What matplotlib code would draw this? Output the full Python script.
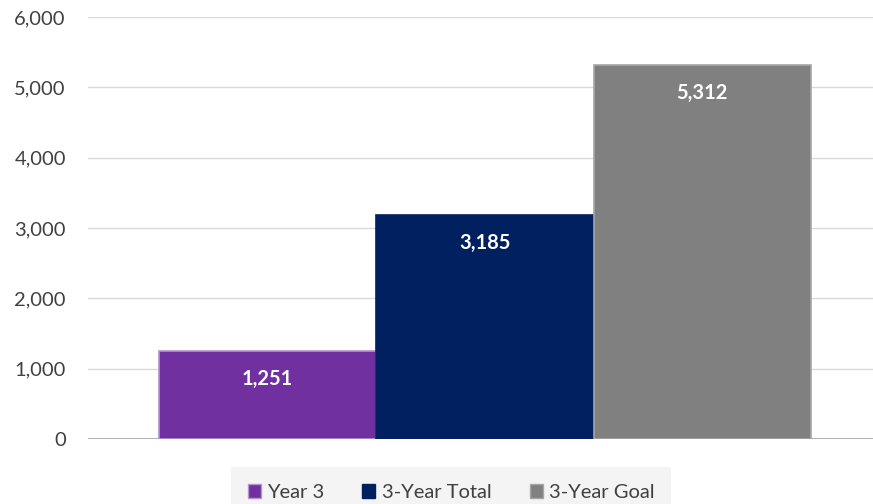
import matplotlib
matplotlib.use("Agg")
import matplotlib.pyplot as plt
from matplotlib.patches import Patch
from matplotlib.ticker import FuncFormatter, MultipleLocator

plt.rcParams['font.family'] = ['Lato', 'DejaVu Sans']

series = ["Year 3", "3-Year Total", "3-Year Goal"]
values = [1251, 3185, 5312]
colors = ["#7030A0", "#002060", "#808080"]
edges = ["#B294D0", "#002060", "#A6A6A6"]

fig = plt.figure(figsize=(8.73, 5.04), dpi=100)
ax = fig.add_axes([88 / 873, 65 / 504, 785 / 873, 422 / 504])

positions = [-1, 0, 1]
bars = ax.bar(positions, values, width=1.0, color=colors, edgecolor=edges,
              linewidth=1.2, zorder=3)

for x, v in zip(positions, values):
    ax.annotate(f"{v:,}", xy=(x, v), xytext=(0, -20), textcoords="offset points",
                ha="center", va="center", color="white", fontsize=14.5,
                fontweight="bold", zorder=4)

ax.set_xlim(-1.827, 1.786)
ax.set_ylim(0, 6000)
ax.yaxis.set_major_locator(MultipleLocator(1000))
ax.yaxis.set_major_formatter(FuncFormatter(lambda v, p: f"{int(v):,}"))
ax.grid(axis="y", color="#D9D9D9", linewidth=1.0, zorder=0)
ax.axhline(0, color="#A6A6A6", linewidth=1.2, zorder=2)
ax.set_xticks([])
ax.tick_params(axis="y", length=0, pad=16, labelsize=14.5, labelcolor="#404040")
for s in ax.spines.values():
    s.set_visible(False)

handles = [Patch(facecolor=c, edgecolor=e, linewidth=1.0) for c, e in zip(colors, edges)]
leg = fig.legend(handles, series, loc="upper center", bbox_to_anchor=(451 / 873, 1 - 479 / 504),
                 ncol=3, frameon=True, fontsize=14.5, handlelength=0.65, handleheight=0.65,
                 handletextpad=0.3, columnspacing=1.9, borderpad=0.25, borderaxespad=0,
                 labelcolor="#404040")
frame = leg.get_frame()
frame.set_facecolor("#F2F2F2")
frame.set_edgecolor("none")
frame.set_boxstyle("square", pad=0.6)

fig.savefig("out.png", dpi=100)
